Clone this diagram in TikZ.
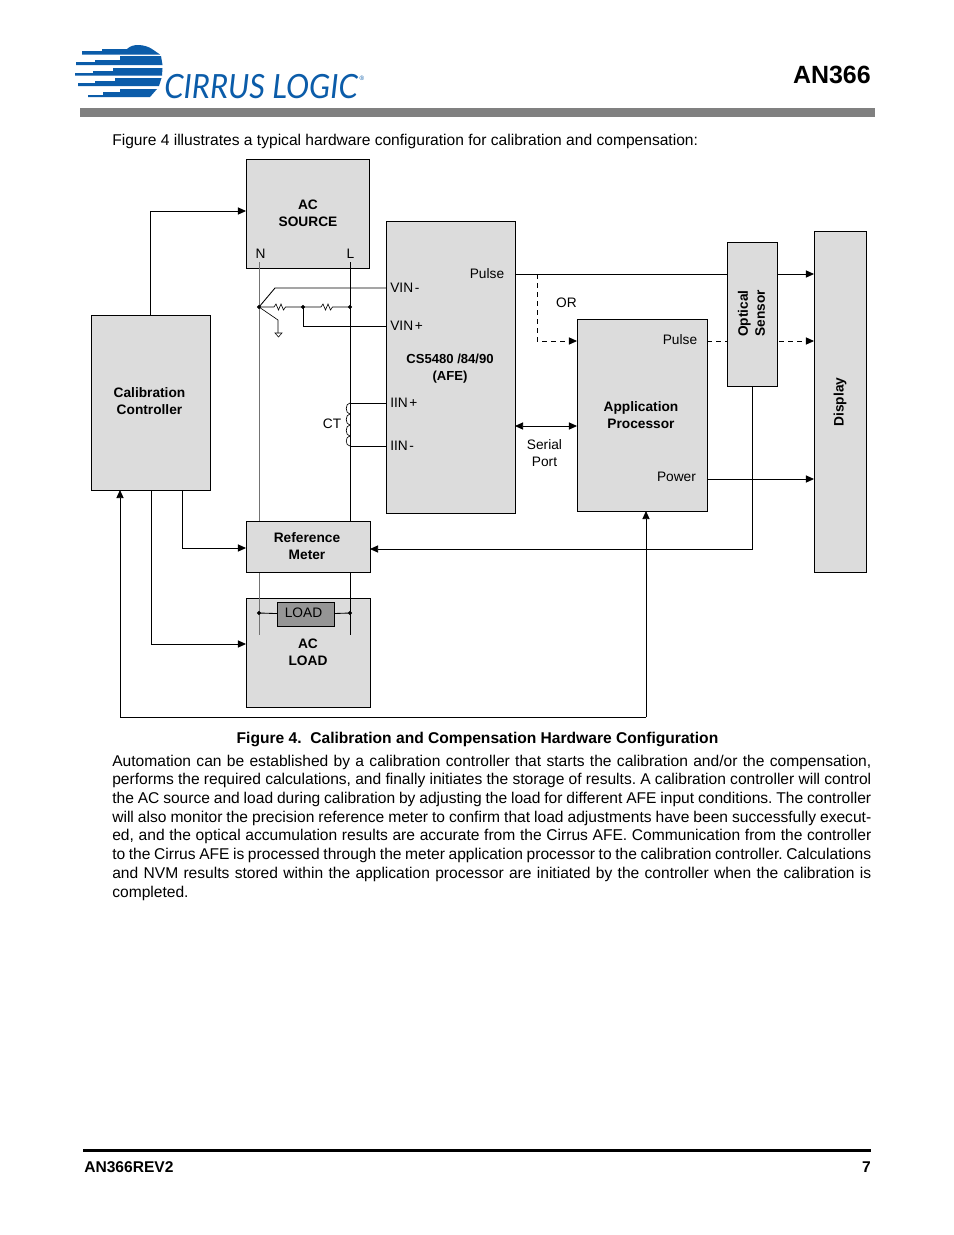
\documentclass[tikz,border=0pt]{standalone}
\usepackage{fontspec}
\usepackage{xcolor}
\setmainfont{Liberation Sans}
\newfontfamily\logofont{Lato}
\usetikzlibrary{arrows.meta}
\definecolor{blockgray}{HTML}{DCDCDC}
\definecolor{loadgray}{HTML}{959595}
\definecolor{barcolor}{HTML}{808080}
\definecolor{logoblue}{HTML}{0B5CA9}
\tikzset{
  blockbox/.style={draw=black,fill=blockgray,line width=.55pt,anchor=north west,inner sep=0pt},
  wire/.style={line width=.55pt},
  feed/.style={wire,-{Triangle[length=5.2pt,width=4.6pt]}},
  dashfeed/.style={feed,dash pattern=on 3.2pt off 2.6pt},
  lbl/.style={inner sep=0pt,align=center,font=\fontsize{8.8}{10.9}\selectfont},
  blbl/.style={lbl,font=\fontsize{8.8}{10.9}\selectfont\bfseries},
  pinlbl/.style={lbl,anchor=west},
  page/.style={inner sep=0pt,font=\fontsize{10}{12}\selectfont},
}
\newcommand{\block}[6][]{\node[blockbox,minimum width=#5*.6415pt,minimum height=#6*.6415pt,#1] (#2) at (#3,#4) {};}
\newcommand{\junction}[1]{\filldraw [black] (#1) circle (1.7)}
\newcommand{\bodyline}[1]{\leavevmode\hbox to 486.9pt{\spaceskip=.278em plus 1em minus .2em\relax\xspaceskip=\spaceskip #1}}
\newcommand{\pinname}[1]{\hbox{\spaceskip=.12em\relax #1}}

\begin{document}
\begin{tikzpicture}[x=.6415pt,y=-.6415pt]
    \useasboundingbox (0,0) rectangle (954,1235);
    \fill[white] (0,0) rectangle (954,1235);

    % logo
    \fill[logoblue] (82,51) -- (102,51) -- (102,49) -- (127,49) .. controls (130,46) and (134,45) .. (138,45)
      .. controls (144,45) and (149,47) .. (152,49) -- (160,54.5) -- (82,54.5) -- cycle;
    \fill[logoblue] (76,62) -- (95,62) -- (95,60) -- (120,60) -- (120,56) -- (161,56) -- (162.5,65) -- (95,65) -- (76,65) -- cycle;
    \fill[logoblue] (75,73) -- (93,73) -- (93,71) -- (113,71) -- (113,68) -- (162.5,68) -- (162,75.5) -- (75,75.5) -- cycle;
    \fill[logoblue] (78,83) -- (95,83) -- (95,81) -- (115,81) -- (115,78) -- (161.5,78) -- (159,86) -- (78,86) -- cycle;
    \fill[logoblue] (88,95) -- (103,95) -- (103,92) -- (120,92) -- (120,89) -- (157,89) -- (150,97) -- (88,97) -- cycle;
    \node[anchor=west,inner sep=0pt,text=logoblue,xscale=.93,font=\logofont\itshape\fontsize{21.4}{22}\selectfont] (logotext) at (164,87) {CIRRUS LOGIC};
    \node[inner sep=0pt,text=logoblue,font=\fontsize{4}{5}\selectfont] (logomark) at (362,78) {®};

    % page head
    \node[anchor=east,inner sep=0pt,font=\fontsize{16}{18}\selectfont\bfseries] (docname) at (871,75) {AN366};
    \fill[barcolor] (80,108) rectangle (875,117);
    \node[page,anchor=west] (intro) at (112,141) {Figure 4 illustrates a typical hardware configuration for calibration and compensation:};

    % blocks under the wires
    \block{source}{246}{159}{123}{109}
    \block{acload}{246}{598}{124}{109}
    \block{afe}{386}{221}{129}{292}
    \block{calib}{91}{315}{119}{175}
    \block{app}{577}{319}{130}{192}
    \block{display}{814}{231}{52}{341}

    \coordinate (nTop) at (259,262);
    \coordinate (nMid) at (259,521);
    \coordinate (nLow) at (259,572);
    \coordinate (nEnd) at (259,635);
    \coordinate (lTop) at (350,262);
    \coordinate (lEnd) at (350,635);
    \draw[wire,draw=black!55] (nTop) -- (nMid);
    \draw[wire,draw=black!55] (nLow) -- (nEnd);
    \draw[wire] (lTop) -- (lEnd);

    % voltage divider
    \coordinate (nTap) at (259,307);
    \coordinate (midTap) at (303,307);
    \coordinate (lTap) at (350,307);
    \coordinate (vinm) at (386,288);
    \coordinate (vinp) at (386,326);
    \coordinate (gnd) at (278,333);
    \draw[wire] (nTap) -- (275,288) -- (vinm);
    \draw[wire] (midTap) |- (vinp);
    \draw[wire,line width=.4pt] (nTap) -- (274,307) -- ++(2,-3) -- ++(2.5,6) -- ++(2.5,-6) -- ++(2.5,6) -- ++(2,-3) -- (midTap);
    \draw[wire,line width=.4pt] (midTap) -- (321,307) -- ++(2,-3) -- ++(2.5,6) -- ++(2.5,-6) -- ++(2.5,6) -- ++(2,-3) -- (lTap);
    \draw[wire,line width=.4pt] (nTap) -- (278,320) -- (gnd);
    \draw[line width=.35pt] (275,333) -- (282,333) -- (278.5,337) -- cycle;
    \junction{nTap};
    \junction{midTap};
    \junction{lTap};

    % current transformer
    \coordinate (iinp) at (386,403);
    \coordinate (iinm) at (386,446);
    \draw[wire] (350,403) -- (iinp);
    \draw[wire] (350,446) -- (iinm);
    \draw[line width=.4pt] (350,403) .. controls (345,403) and (345,414) .. (350,414)
      .. controls (345,414) and (345,425) .. (350,425)
      .. controls (345,425) and (345,436) .. (350,436)
      .. controls (345,436) and (345,446) .. (350,446);

    % signal paths
    \coordinate (pulseOut) at (515,274);
    \coordinate (pulseIn) at (814,274);
    \coordinate (orTap) at (537,274);
    \coordinate (appIn) at (577,341);
    \coordinate (appOut) at (707,341);
    \coordinate (dispIn) at (814,341);
    \draw[feed] (pulseOut) -- (pulseIn);
    \draw[dashfeed] (orTap) |- (appIn);
    \draw[dashfeed] (appOut) -- (dispIn);
    \draw[{Triangle[length=5.2pt,width=4.6pt]}-{Triangle[length=5.2pt,width=4.6pt]},wire] (515,426) -- (577,426);
    \draw[feed] (707,479) -- (814,479);
    \coordinate (sensorOut) at (752,386);
    \coordinate (meterIn) at (370,549);
    \draw[feed] (sensorOut) |- (meterIn);
    \coordinate (sourceIn) at (246,211);
    \coordinate (calibTop) at (150,315);
    \draw[feed] (calibTop) |- (sourceIn);
    \draw[feed] (182,490) |- (246,548);
    \draw[feed] (151,490) |- (246,644);
    \coordinate (appLow) at (646,717);
    \draw[feed] (appLow) -- (646,511);
    \draw[feed] (appLow) -| (120,490);

    % blocks over the wires
    \block{sensor}{727}{242}{50}{144}
    \block{meter}{246}{521}{124}{51}
    \block[fill=loadgray]{loadbox}{277}{602}{57}{24}
    \coordinate (nLoad) at (259,613);
    \coordinate (lLoad) at (350,613);
    \draw[wire] (nLoad) -- (loadbox);
    \draw[wire] (loadbox) -- (lLoad);
    \junction{nLoad};
    \junction{lLoad};

    % labels
    \node[blbl] (sourcetxt) at (308,213) {AC\\SOURCE};
    \node[lbl] (ntxt) at (260.5,254) {N};
    \node[lbl] (ltxt) at (350.5,254) {L};
    \node[blbl] (calibtxt) at (149.5,401.5) {Calibration\\Controller};
    \node[blbl] (metertxt) at (307,546) {Reference\\Meter};
    \node[lbl] (loadtxt) at (303.5,613) {LOAD};
    \node[blbl] (acloadtxt) at (308,652) {AC\\LOAD};
    \node[pinlbl] (vinmtxt) at (390,288) {\pinname{VIN -}};
    \node[pinlbl] (vinptxt) at (390,326) {\pinname{VIN +}};
    \node[pinlbl] (iinptxt) at (390,403) {\pinname{IIN +}};
    \node[pinlbl] (iinmtxt) at (390,446) {\pinname{IIN -}};
    \node[lbl] (cttxt) at (332,424) {CT};
    \node[lbl] (pulsetxt) at (487,274) {Pulse};
    \node[blbl,font=\fontsize{8.4}{10.9}\selectfont\bfseries] (afetxt) at (450,369) {CS5480 /84/90\\(AFE)};
    \node[lbl] (ortxt) at (566.5,303) {OR};
    \node[lbl] (serialtxt) at (544.5,453) {Serial\\Port};
    \node[lbl] (apppulse) at (680,340) {Pulse};
    \node[blbl] (apptxt) at (641,415) {Application\\Processor};
    \node[lbl] (apppower) at (676.5,477) {Power};
    \node[blbl,rotate=90] (sensortxt) at (751.5,313.5) {Optical\\Sensor};
    \node[blbl,rotate=90] (displaytxt) at (840,402) {Display};

    % page text
    \node[page,font=\fontsize{10}{12}\selectfont\bfseries] (caption) at (477.5,739) {Figure 4.\ \ Calibration and Compensation Hardware Configuration};
    \node[page,anchor=north west,align=left,text width=486.9pt] (body) at (112,754.5) {%
      \bodyline{Automation can be established by a calibration controller that starts the calibration and/or the compensation,}\\
      \bodyline{performs the required calculations, and finally initiates the storage of results. A calibration controller will control}\\
      \bodyline{the AC source and load during calibration by adjusting the load for different AFE input conditions. The controller}\\
      \bodyline{will also monitor the precision reference meter to confirm that load adjustments have been successfully execut-}\\
      \bodyline{ed, and the optical accumulation results are accurate from the Cirrus AFE. Communication from the controller}\\
      \bodyline{to the Cirrus AFE is processed through the meter application processor to the calibration controller. Calculations}\\
      \bodyline{and NVM results stored within the application processor are initiated by the controller when the calibration is}\\
      completed.};
    \fill[black] (83,1149) rectangle (871,1152);
    \node[page,anchor=west,font=\fontsize{10}{12}\selectfont\bfseries] (docrev) at (84,1167.5) {AN366REV2};
    \node[page,anchor=east,font=\fontsize{10}{12}\selectfont\bfseries] (pagenum) at (871,1167.5) {7};
\end{tikzpicture}
\end{document}
